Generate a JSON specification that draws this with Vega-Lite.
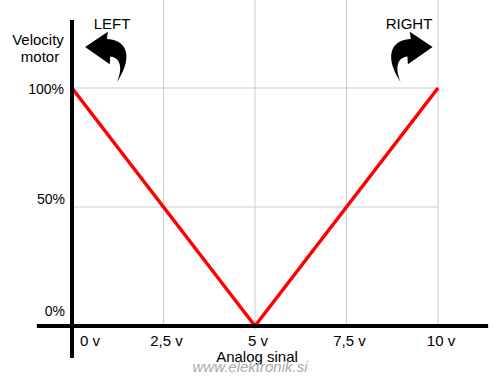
{
  "$schema": "https://vega.github.io/schema/vega-lite/v6.json",
  "width": 500,
  "height": 376,
  "autosize": "none",
  "padding": 0,
  "background": "white",
  "config": {"view": {"stroke": null}, "text": {"font": "Liberation Sans"}},
  "layer": [
    {
      "data": {"values": [{"v": 2.5}, {"v": 5}, {"v": 7.5}, {"v": 10}]},
      "mark": {"type": "rule", "color": "#cccccc", "strokeWidth": 1},
      "encoding": {
        "x": {"field": "v", "type": "quantitative", "scale": {"domain": [-1.967, 11.694], "nice": false, "zero": false}, "axis": null},
        "y": {"datum": 0, "scale": {"domain": [-21.01, 136.97], "nice": false, "zero": false}, "axis": null},
        "y2": {"datum": 137}
      }
    },
    {
      "data": {"values": [{"p": 100}, {"p": 50}]},
      "mark": {"type": "rule", "color": "#cccccc", "strokeWidth": 1},
      "encoding": {
        "y": {"field": "p", "type": "quantitative", "scale": {"domain": [-21.01, 136.97], "nice": false, "zero": false}, "axis": null},
        "x": {"datum": 0, "scale": {"domain": [-1.967, 11.694], "nice": false, "zero": false}, "axis": null},
        "x2": {"datum": 10}
      }
    },
    {
      "data": {"values": [{"volt": 0, "speed": 100}, {"volt": 5, "speed": 0}, {"volt": 10, "speed": 100}]},
      "mark": {"type": "line", "color": "#ff0000", "strokeWidth": 3.5},
      "encoding": {
        "x": {"field": "volt", "type": "quantitative", "scale": {"domain": [-1.967, 11.694], "nice": false, "zero": false}, "axis": null},
        "y": {"field": "speed", "type": "quantitative", "scale": {"domain": [-21.01, 136.97], "nice": false, "zero": false}, "axis": null}
      }
    },
    {
      "data": {"values": [{}]},
      "mark": {"type": "rule", "color": "black", "strokeWidth": 4},
      "encoding": {
        "x": {"datum": 0, "scale": {"domain": [-1.967, 11.694], "nice": false, "zero": false}, "axis": null},
        "y": {"datum": -13.4, "scale": {"domain": [-21.01, 136.97], "nice": false, "zero": false}, "axis": null},
        "y2": {"datum": 128.6}
      }
    },
    {
      "data": {"values": [{}]},
      "mark": {"type": "rule", "color": "black", "strokeWidth": 4},
      "encoding": {
        "y": {"datum": 0, "scale": {"domain": [-21.01, 136.97], "nice": false, "zero": false}, "axis": null},
        "x": {"datum": -0.96, "scale": {"domain": [-1.967, 11.694], "nice": false, "zero": false}, "axis": null},
        "x2": {"datum": 11.37}
      }
    },
    {
      "data": {"values": [{"v": 0, "l": "0 v"}]},
      "mark": {"type": "text", "fontSize": 15, "color": "black", "align": "center", "baseline": "middle", "dx": 18, "dy": 15},
      "encoding": {
        "x": {"field": "v", "type": "quantitative", "scale": {"domain": [-1.967, 11.694], "nice": false, "zero": false}, "axis": null},
        "y": {"datum": 0, "scale": {"domain": [-21.01, 136.97], "nice": false, "zero": false}, "axis": null},
        "text": {"field": "l"}
      }
    },
    {
      "data": {"values": [{"v": 2.5, "l": "2,5 v"}, {"v": 5, "l": "5 v"}, {"v": 7.5, "l": "7,5 v"}, {"v": 10, "l": "10 v"}]},
      "mark": {"type": "text", "fontSize": 15, "color": "black", "align": "center", "baseline": "middle", "dx": 3, "dy": 15},
      "encoding": {
        "x": {"field": "v", "type": "quantitative", "scale": {"domain": [-1.967, 11.694], "nice": false, "zero": false}, "axis": null},
        "y": {"datum": 0, "scale": {"domain": [-21.01, 136.97], "nice": false, "zero": false}, "axis": null},
        "text": {"field": "l"}
      }
    },
    {
      "data": {"values": [{"p": 100, "l": "100%"}]},
      "mark": {"type": "text", "fontSize": 14, "color": "black", "align": "right", "baseline": "middle", "dx": -8, "dy": 2},
      "encoding": {
        "x": {"datum": 0, "scale": {"domain": [-1.967, 11.694], "nice": false, "zero": false}, "axis": null},
        "y": {"field": "p", "type": "quantitative", "scale": {"domain": [-21.01, 136.97], "nice": false, "zero": false}, "axis": null},
        "text": {"field": "l"}
      }
    },
    {
      "data": {"values": [{"p": 50, "l": "50%"}]},
      "mark": {"type": "text", "fontSize": 14, "color": "black", "align": "right", "baseline": "middle", "dx": -7, "dy": -7},
      "encoding": {
        "x": {"datum": 0, "scale": {"domain": [-1.967, 11.694], "nice": false, "zero": false}, "axis": null},
        "y": {"field": "p", "type": "quantitative", "scale": {"domain": [-21.01, 136.97], "nice": false, "zero": false}, "axis": null},
        "text": {"field": "l"}
      }
    },
    {
      "data": {"values": [{"p": 0, "l": "0%"}]},
      "mark": {"type": "text", "fontSize": 14, "color": "black", "align": "right", "baseline": "middle", "dx": -7, "dy": -14},
      "encoding": {
        "x": {"datum": 0, "scale": {"domain": [-1.967, 11.694], "nice": false, "zero": false}, "axis": null},
        "y": {"field": "p", "type": "quantitative", "scale": {"domain": [-21.01, 136.97], "nice": false, "zero": false}, "axis": null},
        "text": {"field": "l"}
      }
    },
    {
      "data": {"values": [
        {"x": -0.929, "y": 120.17, "l": "Velocity"},
        {"x": -0.874, "y": 113.03, "l": "motor"},
        {"x": 1.093, "y": 126.9, "l": "LEFT"},
        {"x": 9.208, "y": 126.9, "l": "RIGHT"},
        {"x": 5.055, "y": -13.0, "l": "Analog sinal"}
      ]},
      "mark": {"type": "text", "fontSize": 15, "color": "black", "align": "center", "baseline": "middle"},
      "encoding": {
        "x": {"field": "x", "type": "quantitative", "scale": {"domain": [-1.967, 11.694], "nice": false, "zero": false}, "axis": null},
        "y": {"field": "y", "type": "quantitative", "scale": {"domain": [-21.01, 136.97], "nice": false, "zero": false}, "axis": null},
        "text": {"field": "l"}
      }
    },
    {
      "data": {"values": [{"x": 4.863, "y": -17.2, "l": "www.elektronik.si"}]},
      "mark": {"type": "text", "fontSize": 15, "color": "#aaaaaa", "fontStyle": "italic", "align": "center", "baseline": "middle"},
      "encoding": {
        "x": {"field": "x", "type": "quantitative", "scale": {"domain": [-1.967, 11.694], "nice": false, "zero": false}, "axis": null},
        "y": {"field": "y", "type": "quantitative", "scale": {"domain": [-21.01, 136.97], "nice": false, "zero": false}, "axis": null},
        "text": {"field": "l"}
      }
    },
    {
      "data": {"values": [{"x": 0.98, "y": 113, "dir": "left"}]},
      "mark": {"type": "point", "filled": true, "color": "black", "opacity": 1, "size": 2300, "shape": "M -0.95 -0.42 L 0 -1.05 L -0.04 -0.75 C 0.6 -0.75 1.2 -0.2 0.38 1.05 C 0.65 0.42 0.5 0.02 0.1 -0.02 L 0.08 0.3 Z"},
      "encoding": {
        "x": {"field": "x", "type": "quantitative", "scale": {"domain": [-1.967, 11.694], "nice": false, "zero": false}, "axis": null},
        "y": {"field": "y", "type": "quantitative", "scale": {"domain": [-21.01, 136.97], "nice": false, "zero": false}, "axis": null}
      }
    },
    {
      "data": {"values": [{"x": 9.23, "y": 113, "dir": "right"}]},
      "mark": {"type": "point", "filled": true, "color": "black", "opacity": 1, "size": 2300, "shape": "M 0.95 -0.42 L 0 -1.05 L 0.04 -0.75 C -0.6 -0.75 -1.2 -0.2 -0.38 1.05 C -0.65 0.42 -0.5 0.02 -0.1 -0.02 L -0.08 0.3 Z"},
      "encoding": {
        "x": {"field": "x", "type": "quantitative", "scale": {"domain": [-1.967, 11.694], "nice": false, "zero": false}, "axis": null},
        "y": {"field": "y", "type": "quantitative", "scale": {"domain": [-21.01, 136.97], "nice": false, "zero": false}, "axis": null}
      }
    }
  ]
}
